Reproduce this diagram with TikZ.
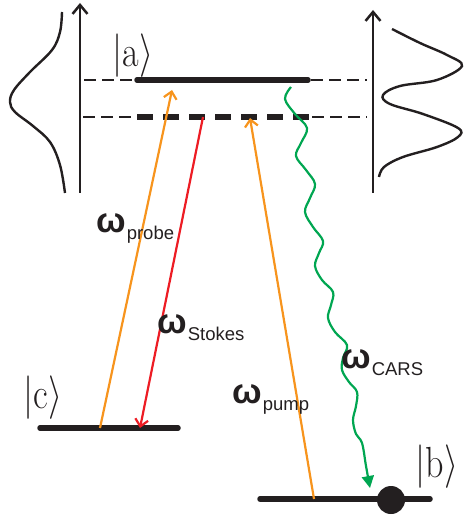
\documentclass[tikz,border=0pt]{standalone}
\usepackage{fontspec}
\usepackage{graphicx}
\newfontfamily\wfont{Liberation Sans}
\usetikzlibrary{arrows.meta}
\definecolor{cOrange}{RGB}{247,148,29}
\definecolor{cRed}{RGB}{237,28,36}
\definecolor{cGreen}{RGB}{0,166,81}
\definecolor{cBlack}{RGB}{35,31,32}
\newcommand{\ketlab}[1]{\scalebox{1.45}[1.75]{\Huge$|\mathrm{#1}\rangle$}}
\newcommand{\wlab}[1]{\wfont\bfseries\fontsize{35}{37}\selectfont ω\kern1pt\raisebox{-7pt}{\mdseries\fontsize{18.5}{20}\selectfont #1}}
\tikzset{
  axisline/.style={cBlack, line width=2.5pt, -{Straight Barb[length=9pt,width=15pt,line width=2.5pt]}},
  curveline/.style={cBlack, line width=2.4pt},
  levelline/.style={cBlack, line width=5.5pt, line cap=round},
  thindash/.style={cBlack, line width=2.4pt, dash pattern=on 12pt off 6pt},
  thickdash/.style={cBlack, line width=5.5pt, dash pattern=on 16pt off 10pt},
  beam/.style={line width=2.2pt, -{Straight Barb[length=7pt,width=13pt,line width=2.2pt]}},
  lab/.style={inner sep=0pt, anchor=base west, text=cBlack},
  ket/.style={inner sep=0pt, text=cBlack}
}
\begin{document}
\begin{tikzpicture}[x=1pt,y=-1pt]
\useasboundingbox (0,0) rectangle (463,518);
% coordinates
\coordinate (lax0) at (80,193);
\coordinate (lax1) at (80,3);
\coordinate (rax0) at (373,193);
\coordinate (rax1) at (373,10);
\coordinate (a0) at (137,80);
\coordinate (a1) at (308,80);
\coordinate (v0) at (137,117);
\coordinate (v1) at (309,117);
\coordinate (c0) at (40,428);
\coordinate (c1) at (178,428);
\coordinate (b0) at (260,499);
\coordinate (b1) at (430,499);
\coordinate (probeS) at (100,428);
\coordinate (probeE) at (172,90);
\coordinate (stokesS) at (203,117);
\coordinate (stokesE) at (140,428);
\coordinate (pumpS) at (314,499);
\coordinate (pumpE) at (250,118);
% axes
\draw[axisline] (lax0) -- (lax1);
\draw[axisline] (rax0) -- (rax1);
% distribution curves
\draw[curveline] plot[smooth, tension=0.6] coordinates {(62,12) (60,32) (52,50) (30,72) (14,90) (10,102) (15,112) (33,126) (50,142) (60,165) (65,193)};
\draw[curveline] plot[smooth, tension=0.6] coordinates {(392,29) (420,43) (447,55) (462,66) (437,80) (400,86) (383,95) (390,104) (423,114) (458,128) (458,137) (437,147) (403,157) (384,167) (379,177)};
% dashed guide lines
\draw[thindash] (84,80) -- (a0);
\draw[thindash] (311,80) -- (367,80);
\draw[thindash] (83,117) -- (v0);
\draw[thindash] (312,117) -- (367,117);
\draw[thickdash] (v0) -- (v1);
% levels
\draw[levelline] (a0) -- (a1);
\draw[levelline] (c0) -- (c1);
\draw[levelline] (b0) -- (b1);
\node[circle, fill=cBlack, minimum size=28pt, inner sep=0pt] (dot) at (391,500) {};
% kets
\node[ket] (ka) at (133,56) {\ketlab{a}};
\node[ket] (kc) at (43,398) {\ketlab{c}};
\node[ket] (kb) at (437,467) {\ketlab{b}};
% beams
\draw[beam, cOrange] (probeS) -- (probeE);
\draw[beam, cRed] (stokesS) -- (stokesE);
\draw[beam, cOrange] (pumpS) -- (pumpE);
\draw[cGreen, line width=2.2pt, -{Triangle[length=12pt,width=12pt]}] plot[smooth, tension=0.6] coordinates {(291,87) (285,99) (295,114) (307,128) (301,143) (296,156) (306,170) (315,184) (310,198) (305,212) (313,227) (323,241) (319,253) (315,266) (322,280) (333,292) (331,305) (328,318) (335,332) (347,345) (343,358) (342,370) (349,382) (357,392) (356,406) (353,420) (356,434) (362,443) (366,466) (370,488)};
% labels
\node[lab] (lprobe) at (96,233) {\wlab{probe}};
\node[lab] (lstokes) at (157,333) {\wlab{Stokes}};
\node[lab] (lpump) at (232,403) {\wlab{pump}};
\node[lab] (lcars) at (341,368) {\wlab{CARS}};
\end{tikzpicture}
\end{document}
